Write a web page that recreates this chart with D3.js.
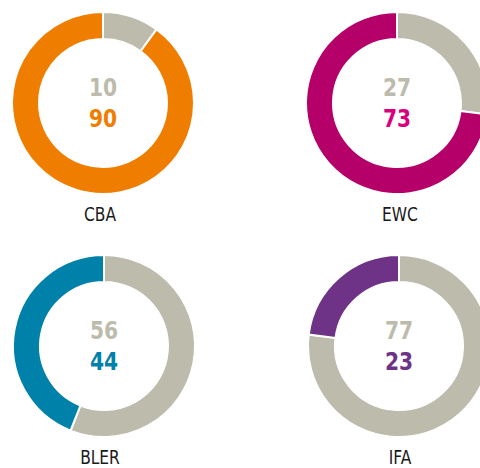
<!DOCTYPE html>
<html>
  <head>
    <title>Donuts</title>
    <script src="https://cdn.jsdelivr.net/npm/d3@7"></script>
    <style>
      body { margin: 0; background: #fff; }
    </style>
  </head>
  <body>
    <svg id="container" width="480" height="468"></svg>
  <script>
    // data
    const labels = ["CBA", "EWC", "BLER", "IFA"];
    const restValues = [10, 27, 56, 77];   // grey part, starts at 12 o'clock
    const mainValues = [90, 73, 44, 23];   // coloured part
    const mainColors = ["#ef7d00", "#b5006a", "#0081a9", "#6e3386"];
    const textColors = ["#ef7d00", "#d9007e", "#0081a9", "#6e3386"];
    const grey = "#bcbbac";

    const centers = [[103, 103], [397, 103], [104, 346], [399, 346]];
    const labelX = [100, 400]; // label column centres

    const svg = d3.select("#container");

    const pie = d3.pie().sort(null).value(d => d.value);
    const arc = d3.arc().innerRadius(64).outerRadius(91);

    labels.forEach((name, i) => {
      const g = svg.append("g")
        .attr("transform", `translate(${centers[i][0]},${centers[i][1]})`);

      const slices = [
        { key: "rest", value: restValues[i], color: grey },
        { key: "main", value: mainValues[i], color: mainColors[i] }
      ];

      g.selectAll("path")
        .data(pie(slices))
        .join("path")
        .attr("d", arc)
        .attr("fill", d => d.data.color)
        .attr("stroke", "#fff")
        .attr("stroke-width", 2);

      // numbers, slightly condensed
      const nums = g.append("g").attr("transform", "scale(0.9,1)");
      nums.append("text")
        .attr("x", 0).attr("y", -7)
        .attr("text-anchor", "middle")
        .attr("font-family", "DejaVu Sans Condensed, DejaVu Sans")
        .attr("font-weight", "bold")
        .attr("font-size", 25)
        .attr("fill", grey)
        .text(restValues[i]);

      nums.append("text")
        .attr("x", 0).attr("y", 24)
        .attr("text-anchor", "middle")
        .attr("font-family", "DejaVu Sans Condensed, DejaVu Sans")
        .attr("font-weight", "bold")
        .attr("font-size", 25)
        .attr("fill", textColors[i])
        .text(mainValues[i]);

      svg.append("g")
        .attr("transform", `translate(${labelX[i % 2]},${centers[i][1] + 118}) scale(0.86,1)`)
        .append("text")
        .attr("text-anchor", "middle")
        .attr("font-family", "DejaVu Sans Condensed, DejaVu Sans")
        .attr("font-size", 20)
        .attr("fill", "#1a1a1a")
        .text(name);
    });
  </script>
  </body>
</html>
